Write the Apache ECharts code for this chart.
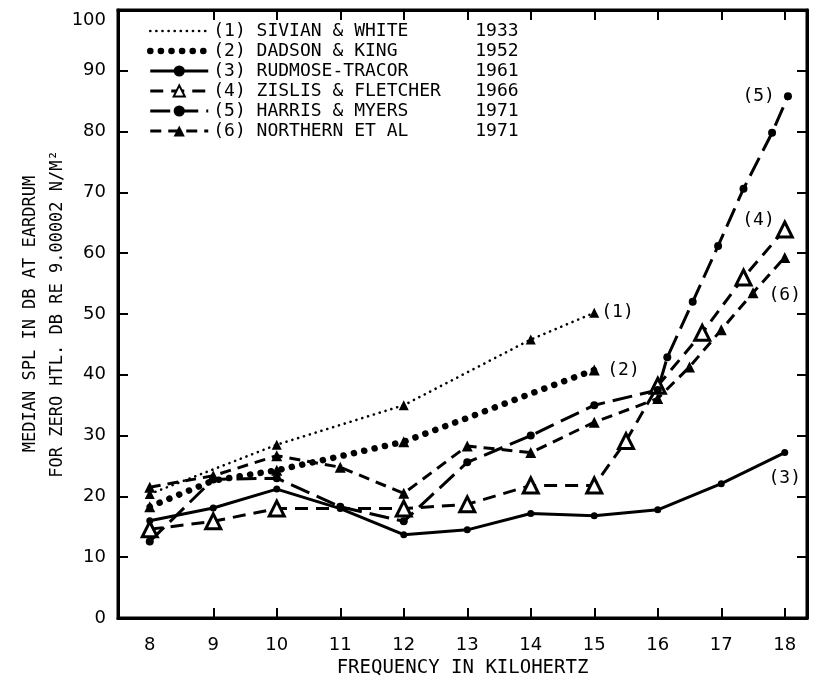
<!DOCTYPE html>
<html>
<head>
<meta charset="utf-8">
<script src="https://cdn.jsdelivr.net/npm/echarts@6/dist/echarts.min.js"></script>
<style>
html,body{margin:0;padding:0;background:#fff;}
#c{width:815px;height:683px;}
</style>
</head>
<body>
<div id="c"></div>
<script>
// ---- data ----
var xTickLabels = [8, 9, 10, 11, 12, 13, 14, 15, 16, 17, 18];
var xTicks = [9, 10, 11, 12, 13, 14, 15, 16, 17, 18];

var seriesNames = ['(1) SIVIAN & WHITE', '(2) DADSON & KING', '(3) RUDMOSE-TRACOR',
                   '(4) ZISLIS & FLETCHER', '(5) HARRIS & MYERS', '(6) NORTHERN ET AL'];
var seriesYears = ['1933', '1952', '1961', '1966', '1971', '1971'];
var endTags = ['(1)', '(2)', '(3)', '(4)', '(5)', '(6)'];

var s1Freq = [8, 10, 12, 14, 15];
var s1Val  = [20.4, 28.5, 35, 45.8, 50.2];

var s2Freq = [8, 9, 10, 11, 12, 13, 14, 15];
var s2Val  = [18.3, 22.6, 24.3, 26.6, 29, 32.9, 36.9, 40.8];
var s2Tri  = [1, 0, 1, 0, 1, 0, 0, 1];

var s3Freq = [8, 9, 10, 11, 12, 13, 14, 15, 16, 17, 18];
var s3Val  = [16, 18.1, 21.2, 18, 13.7, 14.5, 17.2, 16.8, 17.8, 22.1, 27.2];

var s4Freq = [8, 9, 10, 12, 13, 14, 15, 15.5, 16, 16.7, 17.35, 18];
var s4Val  = [14.6, 15.9, 18, 18, 18.7, 21.8, 21.8, 29.1, 38.2, 46.9, 56, 63.9];

var s5Freq = [8, 9, 10, 11, 12, 13, 14, 15, 16, 16.15, 16.55, 16.95, 17.35, 17.8, 18.05];
var s5Val  = [12.6, 22.8, 23, 18.3, 15.9, 25.6, 30, 35, 37.5, 42.9, 52, 61.2, 70.6, 79.8, 85.8];

var s6Freq = [8, 9, 10, 11, 12, 13, 14, 15, 16, 16.5, 17, 17.5, 18];
var s6Val  = [21.5, 23.4, 26.7, 24.8, 20.5, 28.3, 27.2, 32.2, 36.1, 41.3, 47.4, 53.5, 59.3];

// ---- build ----
function pairs(f, v) { return f.map(function (x, i) { return [x, v[i]]; }); }

var FONT = 'DejaVu Sans Mono';
var chart = echarts.init(document.getElementById('c'));

var s1Data = s1Freq.map(function (x, i) {
  return { value: [x, s1Val[i]], symbol: 'triangle', symbolSize: 10 };
});
var s2Data = s2Freq.map(function (x, i) {
  return s2Tri[i] ? { value: [x, s2Val[i]], symbol: 'triangle', symbolSize: 11 } : { value: [x, s2Val[i]] };
});

// tag placed next to the last point of a series
function endTag(i, f, v, pos, dist, off) {
  var n = f.length - 1;
  return {
    silent: true,
    symbol: 'circle', symbolSize: 2,
    itemStyle: { color: 'rgba(0,0,0,0)' },
    data: [{
      coord: [f[n], v[n]],
      label: {
        show: true, formatter: endTags[i], position: pos, distance: dist, offset: off || [0, 0],
        color: '#000', fontFamily: FONT, fontSize: 18
      }
    }]
  };
}

var blk = '#000';
var hideSym = { color: 'rgba(0,0,0,0)', borderWidth: 0 };
var option = {
  backgroundColor: '#fff',
  animation: false,
  grid: { left: 118, right: 8, top: 10, bottom: 55, show: true, borderColor: blk, borderWidth: 3 },
  legend: {
    orient: 'vertical', left: 142, top: 17,
    itemWidth: 58, itemHeight: 14, itemGap: 2,
    selectedMode: false,
    lineStyle: { width: 'inherit' },
    data: [
      { name: seriesNames[0], itemStyle: hideSym },
      { name: seriesNames[1], itemStyle: hideSym },
      seriesNames[2], seriesNames[3], seriesNames[4], seriesNames[5]
    ],
    formatter: function (n) { return '{n|' + n + '}{y|' + seriesYears[seriesNames.indexOf(n)] + '}'; },
    textStyle: {
      color: '#000', fontFamily: FONT, fontSize: 18, lineHeight: 18,
      rich: {
        n: { width: 262, fontFamily: FONT, fontSize: 18, lineHeight: 18, color: '#000' },
        y: { fontFamily: FONT, fontSize: 18, lineHeight: 18, color: '#000' }
      }
    }
  },
  xAxis: [{
    type: 'value', min: 7.5, max: 18.35,
    name: 'FREQUENCY IN KILOHERTZ', nameLocation: 'middle', nameGap: 41, nameMoveOverlap: false,
    nameTextStyle: { color: '#000', fontFamily: FONT, fontSize: 19 },
    axisLine: { show: true, onZero: false, lineStyle: { color: blk, width: 3 } },
    axisTick: { show: true, inside: true, length: 10, customValues: xTicks, lineStyle: { color: blk, width: 2 } },
    axisLabel: { show: true, customValues: xTickLabels, margin: 18, color: '#000', fontFamily: 'DejaVu Sans', fontSize: 18 },
    splitLine: { show: false }
  }, {
    type: 'value', position: 'top', min: 7.5, max: 18.35,
    axisLine: { show: true, onZero: false, lineStyle: { color: blk, width: 3 } },
    axisTick: { show: true, inside: true, length: 10, customValues: xTicks, lineStyle: { color: blk, width: 2 } },
    axisLabel: { show: false },
    splitLine: { show: false }
  }],
  yAxis: [{
    type: 'value', min: 0, max: 100, interval: 10,
    name: 'MEDIAN SPL IN DB AT EARDRUM\nFOR ZERO HTL. DB RE 9.00002 N/M²',
    nameLocation: 'middle', nameGap: 47, nameRotate: 90, nameMoveOverlap: false,
    nameTextStyle: { color: '#000', fontFamily: FONT, fontSize: 17, lineHeight: 27 },
    axisLine: { show: true, onZero: false, lineStyle: { color: blk, width: 3 } },
    axisTick: { show: true, inside: true, length: 10, lineStyle: { color: blk, width: 2 } },
    axisLabel: {
      margin: 12, color: '#000', fontFamily: 'DejaVu Sans', fontSize: 18,
      formatter: function (v) { return v === 100 ? '{t|' + v + '}' : String(v); },
      rich: { t: { fontFamily: 'DejaVu Sans', fontSize: 18, color: '#000', padding: [20, 0, 0, 0] } }
    },
    splitLine: { show: false }
  }, {
    type: 'value', position: 'right', min: 0, max: 100, interval: 10,
    axisLine: { show: true, onZero: false, lineStyle: { color: blk, width: 3 } },
    axisTick: { show: true, inside: true, length: 10, lineStyle: { color: blk, width: 2 } },
    axisLabel: { show: false },
    splitLine: { show: false }
  }],
  series: [
    {
      name: seriesNames[0], type: 'line', data: s1Data, symbol: 'none', showSymbol: true,
      lineStyle: { color: blk, width: 2.6, type: [0.1, 6], cap: 'round' },
      itemStyle: { color: blk },
      markPoint: endTag(0, s1Freq, s1Val, 'right', 6)
    },
    {
      name: seriesNames[1], type: 'line', data: s2Data, symbol: 'none', showSymbol: true,
      lineStyle: { color: blk, width: 6.5, type: [0.1, 10.5], cap: 'round' },
      itemStyle: { color: blk },
      markPoint: endTag(1, s2Freq, s2Val, 'right', 12)
    },
    {
      name: seriesNames[2], type: 'line', data: pairs(s3Freq, s3Val), symbol: 'circle', symbolSize: 7,
      lineStyle: { color: blk, width: 3 },
      itemStyle: { color: blk },
      markPoint: endTag(2, s3Freq, s3Val, 'bottom', 16)
    },
    {
      name: seriesNames[3], type: 'line', data: pairs(s4Freq, s4Val), symbol: 'triangle', symbolSize: 15,
      lineStyle: { color: blk, width: 3, type: [13, 8] },
      itemStyle: { color: '#fff', borderColor: blk, borderWidth: 3 },
      markPoint: endTag(3, s4Freq, s4Val, 'left', 11, [2, -9])
    },
    {
      name: seriesNames[4], type: 'line', data: pairs(s5Freq, s5Val), symbol: 'circle', symbolSize: 8,
      lineStyle: { color: blk, width: 3, type: [20, 8] },
      itemStyle: { color: blk },
      markPoint: endTag(4, s5Freq, s5Val, 'left', 12)
    },
    {
      name: seriesNames[5], type: 'line', data: pairs(s6Freq, s6Val), symbol: 'triangle', symbolSize: 11,
      lineStyle: { color: blk, width: 3, type: [11, 7] },
      itemStyle: { color: blk },
      markPoint: endTag(5, s6Freq, s6Val, 'bottom', 28)
    }
  ]
};
chart.setOption(option);
</script>
</body>
</html>
